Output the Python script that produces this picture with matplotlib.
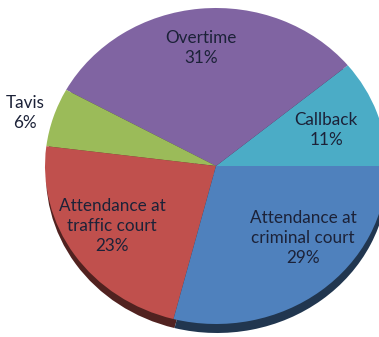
import matplotlib
matplotlib.use("Agg")
import matplotlib.pyplot as plt
import matplotlib.colors as mcolors

# share of hours by category, counter-clockwise from 3 o'clock
labels = ["Callback", "Overtime", "Tavis",
          "Attendance at\ntraffic court", "Attendance at\ncriminal court"]
shares = [11, 31, 6, 23, 29]
colors = ["#4BACC6", "#8064A2", "#9BBB59", "#C0504D", "#4F81BD"]

# label centres in pixel space (x right, y down)
label_pos = [(326, 130), (201, 48), (25, 113), (112, 226), (303, 238)]

W, H = 379, 337
fig = plt.figure(figsize=(W / 100, H / 100), dpi=100)
ax = fig.add_axes([0, 0, 1, 1])

cx, cy = 216, 166          # pie centre (pixels)
rx, ry = 171, 158          # horizontal / vertical radius (pixels)
k = rx / ry                # squash the circle into an ellipse

def to_data(px, py):
    return px, (H - cy) + (cy - py) * k

center = to_data(cx, cy)

# the darker side of the disc, peeking out below
dark = [mcolors.to_hex([c * 0.42 for c in mcolors.to_rgb(col)]) for col in colors]
ax.pie(shares, colors=dark, startangle=0, counterclock=True,
       radius=rx, center=(center[0] + 1, center[1] - 9 * k),
       wedgeprops=dict(linewidth=0), frame=True)

ax.pie(shares, colors=colors, startangle=0, counterclock=True,
       radius=rx, center=center,
       wedgeprops=dict(linewidth=0), frame=True)

# pie() forces an equal aspect; undo it so the disc is flattened
ax.set_aspect("auto")
ax.set_xlim(0, W)
ax.set_ylim((H - cy) - (H - cy) * k, (H - cy) + cy * k)
ax.axis("off")

for lab, val, (px, py) in zip(labels, shares, label_pos):
    x, y = to_data(px, py)
    ax.text(x, y, f"{lab}\n{val}%", ha="center", va="center",
            fontsize=12.3, family="Lato", color="#1C2238", linespacing=1.28)

fig.savefig("out.png", dpi=100)
